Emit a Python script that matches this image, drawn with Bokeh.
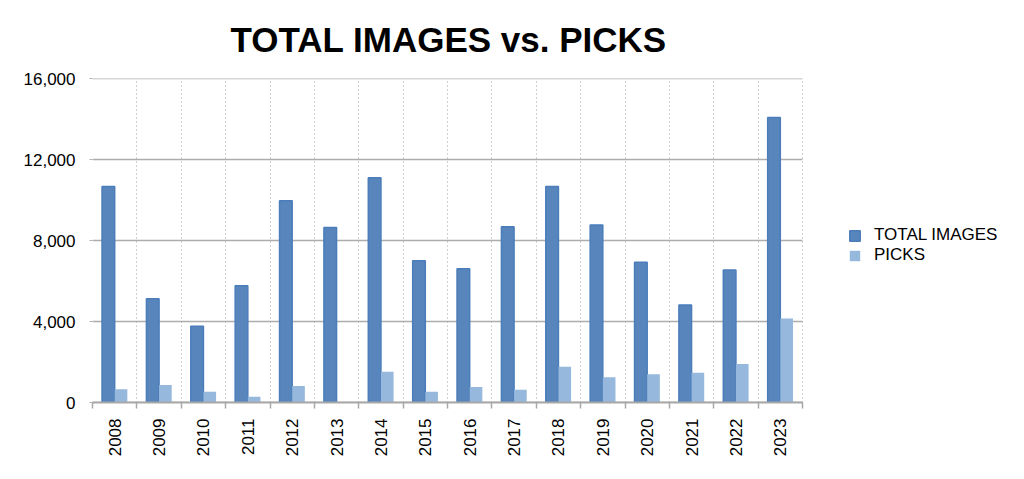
import math
from bokeh.plotting import figure
from bokeh.models import (Range1d, FixedTicker, Legend, LegendItem, ColumnDataSource,
                          NumeralTickFormatter)
from bokeh.transform import dodge
from bokeh.embed import file_html
from bokeh.resources import INLINE

years = ["2008", "2009", "2010", "2011", "2012", "2013", "2014", "2015",
         "2016", "2017", "2018", "2019", "2020", "2021", "2022", "2023"]
total_images = [10670, 5120, 3770, 5760, 9960, 8640, 11100, 7000,
                6600, 8680, 10670, 8770, 6930, 4820, 6540, 14070]
picks = [660, 870, 530, 280, 820, 0, 1520, 530,
         770, 630, 1760, 1250, 1400, 1470, 1900, 4150]
y_ticks = [0, 4000, 8000, 12000, 16000]

FONT = "Liberation Sans"
n = len(years)
xc = [i + 0.5 for i in range(n)]
src = ColumnDataSource(dict(x=xc, year=years, total=total_images, picks=picks))

# layout: bars occupy the left 710px of the frame; the rest holds the legend
W, H = 1010, 463
ML, MR, MT, MB = 92, 5, 78, 61
frame_w = W - ML - MR
bars_w = 710
x_max = n * frame_w / bars_w

p = figure(width=W, height=H, output_backend="svg", toolbar_location=None,
           x_range=Range1d(0, x_max), y_range=Range1d(0, 16000),
           min_border_left=ML, min_border_right=MR, min_border_top=MT,
           min_border_bottom=MB)
p.outline_line_color = None
p.background_fill_color = "white"

p.title.text = "TOTAL IMAGES vs. PICKS"
p.title.text_font = FONT
p.title.text_font_size = "35px"
p.title.text_font_style = "bold"
p.title.text_color = "black"
p.title.align = "left"
p.title.offset = 138
p.title.vertical_align = "top"
p.title.standoff = 35

# horizontal grid lines limited to the bar area
hg = p.segment(x0=[0] * len(y_ticks), x1=[n] * len(y_ticks), y0=y_ticks, y1=y_ticks,
               line_color="#adadad", line_width=1.6)
hg.level = "underlay"
p.ygrid.grid_line_color = None

bw = 0.285
r1 = p.vbar(x=dodge("x", -bw / 2, range=p.x_range), top="total", width=bw, source=src,
            fill_color="#5886BC", line_color="#4A7DBA", line_width=1.5)
r2 = p.vbar(x=dodge("x", bw / 2, range=p.x_range), top="picks", width=bw, source=src,
            fill_color="#95B8DC", line_color=None)

# x axis: labels at centers, tick marks at category boundaries
xt = FixedTicker(ticks=xc, minor_ticks=list(range(n + 1)))
p.xaxis.ticker = xt
p.xaxis.bounds = (0, n)
p.xaxis.major_label_overrides = {x: y for x, y in zip(xc, years)}
p.xaxis.major_label_orientation = math.pi / 2
p.xaxis.major_label_text_font = FONT
p.xaxis.major_label_text_font_size = "17px"
p.xaxis.major_label_text_color = "black"
p.xaxis.major_label_standoff = 10
p.xaxis.major_tick_line_color = None
p.xaxis.minor_tick_line_color = "#a8a8a8"
p.xaxis.minor_tick_line_width = 1.5
p.xaxis.minor_tick_out = 6
p.xaxis.minor_tick_in = 0
p.xaxis.axis_line_color = "#a8a8a8"
p.xaxis.axis_line_width = 2

p.xgrid.ticker = FixedTicker(ticks=list(range(n + 1)))
p.xgrid.grid_line_color = "#a0a0a0"
p.xgrid.grid_line_dash = "1 3"
p.xgrid.grid_line_width = 1

p.yaxis.ticker = FixedTicker(ticks=y_ticks)
p.yaxis.formatter = NumeralTickFormatter(format="0,0")
p.yaxis.major_label_text_font = FONT
p.yaxis.major_label_text_font_size = "17px"
p.yaxis.major_label_text_color = "black"
p.yaxis.major_label_standoff = 14
p.yaxis.axis_line_color = None
p.yaxis.major_tick_line_color = "#b0b0b0"
p.yaxis.major_tick_out = 3
p.yaxis.major_tick_in = 0
p.yaxis.minor_tick_line_color = None

legend = Legend(items=[LegendItem(label="TOTAL IMAGES", renderers=[r1]),
                       LegendItem(label="PICKS", renderers=[r2])],
                location=(756, 137), orientation="vertical")
legend.border_line_color = None
legend.background_fill_alpha = 0
legend.label_text_font = FONT
legend.label_text_font_size = "17px"
legend.label_text_color = "black"
legend.glyph_width = 13
legend.glyph_height = 13
legend.label_height = 13
legend.spacing = 0
legend.label_standoff = 13
legend.margin = 0
legend.padding = 6
p.add_layout(legend, "center")

open("out.html", "w").write(file_html(p, INLINE))
